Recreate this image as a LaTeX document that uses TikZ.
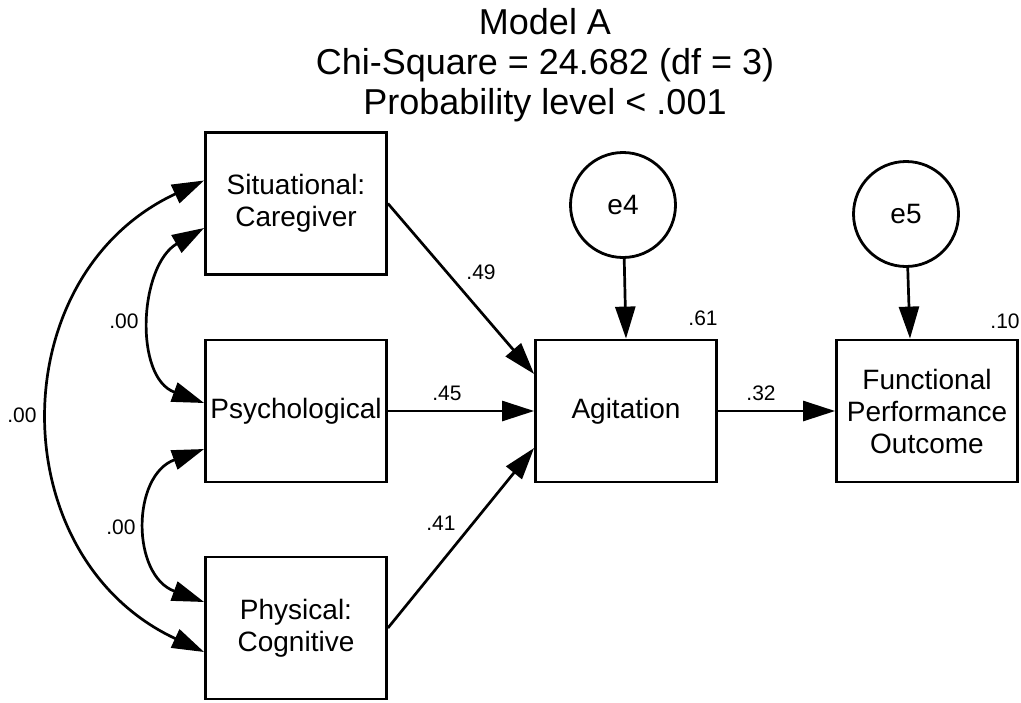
\documentclass[tikz,border=0pt]{standalone}
\usepackage{fontspec}
\setmainfont{Liberation Sans}
\usetikzlibrary{arrows.meta,calc}

\tikzset{
  var/.style={draw, line width=1.4pt, minimum width=90.5pt, minimum height=71pt,
    align=center, inner sep=0pt, font=\fontsize{14}{16}\selectfont},
  err/.style={draw, circle, line width=1.4pt, minimum size=52.5pt,
    inner sep=0pt, font=\fontsize{14}{16}\selectfont},
  regarrow/.style={-{Triangle[length=16pt,width=10pt]}, line width=1.35pt},
  covarrow/.style={{Triangle[length=16pt,width=10pt]}-{Triangle[length=16pt,width=10pt]}, line width=1.35pt},
  coef/.style={inner sep=0pt, font=\fontsize{10.5}{12}\selectfont}
}

\begin{document}
\begin{tikzpicture}[x=0.5pt,y=0.5pt]
    \useasboundingbox (0,0) rectangle (1021,-702);

    \node[align=center, font=\fontsize{18}{20}\selectfont] (title) at (545,-65)
      {Model A\\Chi-Square = 24.682 (df = 3)\\Probability level < .001};

    % observed variables
    \node[var] (sit) at (296,-203.5) {Situational:\\Caregiver};
    \node[var] (psy) at (296,-411) {Psychological};
    \node[var] (phy) at (296,-628) {Physical:\\Cognitive};
    \node[var] (agi) at (626,-411) {Agitation};
    \node[var] (fpo) at (927,-411) {Functional\\Performance\\Outcome};

    % error terms
    \node[err] (e4) at (623,-205) {e4};
    \node[err] (e5) at (906,-214) {e5};

    \draw[regarrow] (sit.east) -- ($(agi.west)+(0,37)$);
    \draw[regarrow] (psy) -- (agi);
    \draw[regarrow] (phy.east) -- ($(agi.west)+(0,-37)$);
    \draw[regarrow] (agi) -- (fpo);
    \draw[regarrow] (e4) -- (agi.north);
    \draw[regarrow] (e5) -- ($(fpo.north)+(-17,0)$);

    % covariances
    \draw[covarrow] ($(sit.west)+(0,23)$) to[out=205,in=155,looseness=1.22] ($(phy.west)+(0,-24)$);
    \draw[covarrow] ($(sit.west)+(0,-24.5)$) to[out=210,in=160,looseness=1.1] ($(psy.west)+(0,8)$);
    \draw[covarrow] ($(psy.west)+(0,-38)$) to[out=200,in=160,looseness=1.3] ($(phy.west)+(0,26)$);

    \node[coef] (c49) at (481,-272) {.49};
    \node[coef] (c45) at (447,-393) {.45};
    \node[coef] (c41) at (441,-523) {.41};
    \node[coef] (c32) at (761,-393) {.32};
    \node[coef] (r61) at (703,-318) {.61};
    \node[coef] (r10) at (1005,-321) {.10};
    \node[coef] (v1) at (124,-321) {.00};
    \node[coef] (v2) at (121,-527) {.00};
    \node[coef] (v3) at (22,-415) {.00};
\end{tikzpicture}
\end{document}
